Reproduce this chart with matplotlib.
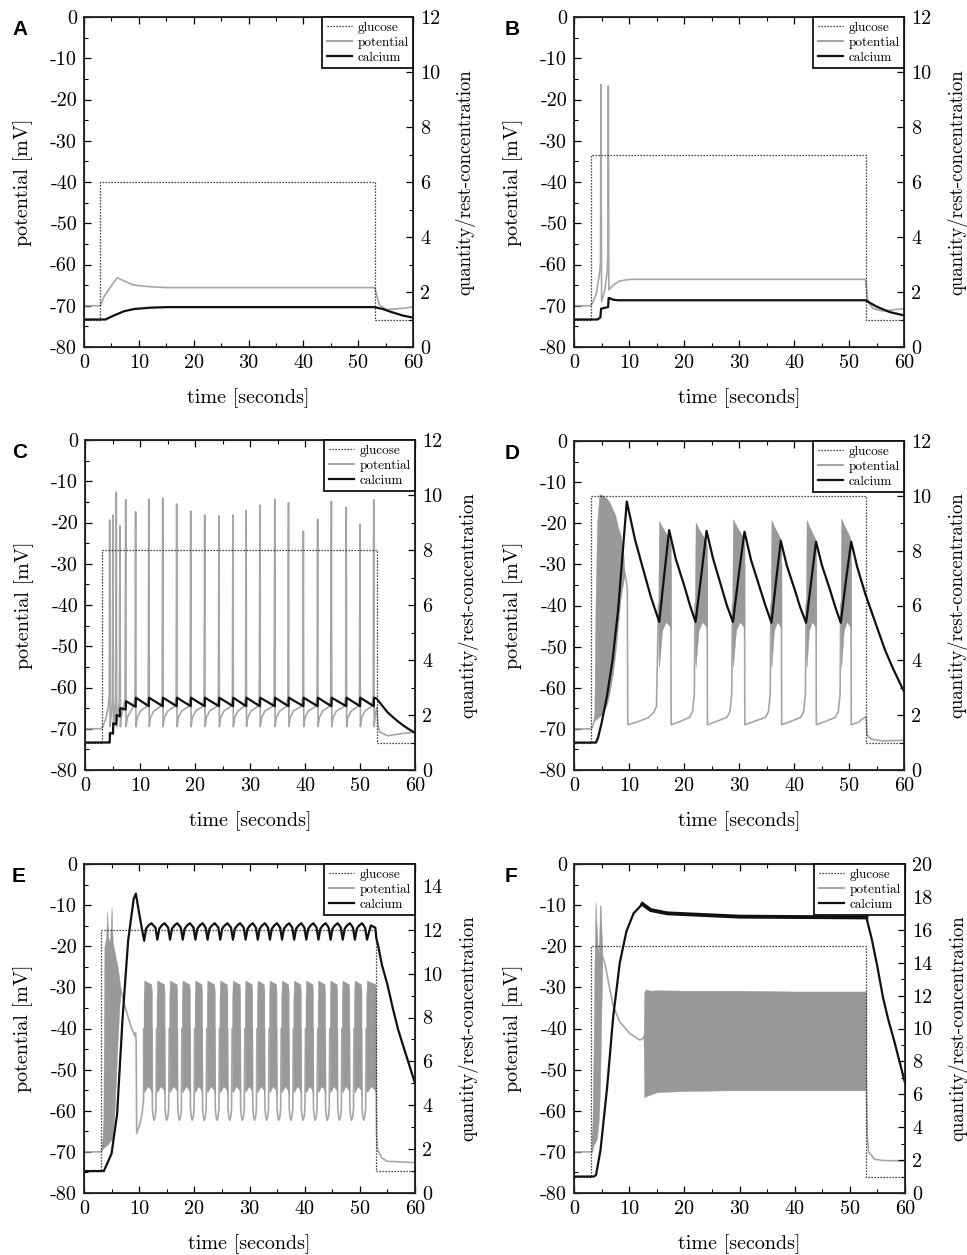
import numpy as np
import matplotlib
matplotlib.use('Agg')
import matplotlib.pyplot as plt
from matplotlib.lines import Line2D
from matplotlib.ticker import MultipleLocator

plt.rcParams['font.family'] = ['cmr10', 'DejaVu Serif']
plt.rcParams['axes.unicode_minus'] = False

GRAY = '#a6a6a6'
BURST = '#999999'
BLACK = '#111111'

# ---------------- shared ----------------
letters = ['A', 'B', 'C', 'D', 'E', 'F']
glucose_level = [6, 7, 8, 10, 12, 15]
right_top = [12, 12, 12, 12, 15, 20]
glu_t = [0, 3, 3, 53, 53, 60]

# ---------------- A ----------------
potA_t = [0, 3.0, 3.6, 4.85, 6.06, 7.3, 9.1, 12.1, 15.2, 53.0, 53.3, 53.9, 55.2, 57.6, 60]
potA_v = [-70, -70, -67.9, -65.4, -63.2, -64.0, -65.0, -65.4, -65.6, -65.6, -67, -69.9, -70.9, -70.7, -70.3]
caA_t = [0, 3.9, 5.5, 7.3, 9.1, 12.1, 15.2, 53.0, 54.5, 56.1, 58.2, 60]
caA_v = [1.0, 1.0, 1.15, 1.3, 1.38, 1.43, 1.45, 1.45, 1.38, 1.27, 1.14, 1.07]

# ---------------- B ----------------
potB_t = [0, 3.0, 3.45, 4.06, 4.55, 4.82, 4.9, 5.02, 5.6, 6.0, 6.15, 6.24, 6.34, 6.6, 7.1, 8.3, 10.1,
          53.0, 53.45, 54.4, 56.2, 58, 60]
potB_v = [-70, -70, -69.1, -67, -63, -59.8, -16.4, -69, -66.2, -62.2, -58, -16.8, -66.2, -65.8, -65, -64, -63.6,
          -63.6, -69.1, -70.7, -71.3, -71.0, -70.7]
caB_t = [0, 4.3, 4.8, 4.92, 5.05, 6.2, 6.3, 6.45, 7.1, 8.0, 53.0, 55.0, 57.4, 60]
caB_v = [1.0, 1.0, 1.08, 1.39, 1.4, 1.45, 1.78, 1.78, 1.72, 1.7, 1.7, 1.47, 1.27, 1.15]

# ---------------- C ----------------
spkC_t = [4.49, 5.09, 5.69, 6.36, 7.4, 9.2, 11.6, 14.13, 16.67, 19.22, 21.76, 24.36, 26.9,
          29.3, 31.8, 34.5, 37.0, 39.7, 42.3, 44.8, 47.5, 50.0, 52.5]
spkC_v = [-19.4, -18.2, -12.7, -20.8, -14.5, -17.4, -14.3, -14.1, -15.5, -17.2, -18.2, -18.4, -18.2,
          -17.1, -15.8, -14.3, -15.2, -22.1, -19.2, -14.9, -16.3, -20.4, -14.5]
potC_pre_t = [0, 3.0, 3.3, 3.8, 4.2, 4.42]
potC_pre_v = [-70, -70, -69.3, -67.5, -65, -62]
potC_post_t = [52.8, 53.05, 53.25, 53.6, 55.0, 57.5, 60]
potC_post_v = [-66.5, -64.8, -69, -70.8, -71.7, -71.2, -70.8]
caC_lo = [1.0, 1.32, 1.66, 1.95, 2.2, 2.3] + [2.32] * 17
caC_hi = [1.35, 1.7, 2.0, 2.25, 2.5] + [2.63] * 18
caC_post_t = [53.0, 54, 55, 56, 57, 58, 59, 60]
caC_post_v = [2.6, 2.35, 2.1, 1.92, 1.75, 1.6, 1.47, 1.35]

# ---------------- D ----------------
potD_pre_t = [0, 3.0, 3.4, 3.7]
potD_pre_v = [-70, -70, -69.5, -68]
burD1_t = [3.7, 3.9, 4.2, 4.6, 5.0, 5.5, 6.0, 6.5, 7.0, 7.5, 8.0, 8.5, 9.0, 9.2]
burD1_hi = [-66, -40, -20, -13, -13, -13.5, -14, -15, -16.5, -18, -21, -23, -28, -32]
burD1_lo = [-68, -67.8, -67.5, -67, -66.5, -65.5, -64, -61, -57, -52, -45, -38, -34, -32]
potD_mid_t = [9.2, 9.45, 9.7, 9.78, 11.5, 13.5, 14.5, 15.0]
potD_mid_v = [-32, -33.5, -36, -69, -68.3, -67.3, -66, -64.5]
burD_start = [15.35, 22.0, 28.8, 35.8, 42.2, 48.5]
burD_end = [17.6, 24.2, 31.0, 37.7, 44.0, 50.35]
burD_top = [-19.4, -19.8, -19.0, -19.2, -19.2, -18.8]
envD_frac = [0.0, 0.05, 0.3, 0.6, 0.9, 1.0]
envD_hi_drop = [15, 0, 1.5, 3.0, 4.5, 6]
envD_lo = [-52, -55, -46, -44, -45, -46]
silD_dt = [0.06, 1.5]
silD_v = [-69, -68.3]
preD_dt = [1.0, 0.45, 0.12]
preD_v = [-67.2, -65.8, -61.5]
potD_post_t = [52.0, 53.1, 53.3, 54.0, 56.0, 60]
potD_post_v = [-68, -67, -71.5, -72.5, -72.9, -72.8]
caD_t = [0, 4.0, 4.4, 5.0, 6.0, 7.0, 8.0, 8.8, 9.6,
         11.1, 12.6, 14.0, 15.5, 16.4, 17.3,
         18.5, 20.0, 21.1, 22.1, 23.2, 24.1,
         25.3, 26.7, 27.8, 28.9, 30.0, 31.0,
         32.2, 33.7, 34.8, 35.9, 36.8, 37.6,
         38.7, 40.1, 41.1, 42.2, 43.2, 44.0,
         45.1, 46.5, 47.5, 48.5, 49.5, 50.4,
         51.5, 53.0, 56.5, 58.0, 60]
caD_v = [1.0, 1.0, 1.2, 1.7, 2.7, 4.0, 5.8, 7.8, 9.79,
         8.4, 7.3, 6.3, 5.4, 7.1, 8.75,
         7.7, 6.75, 6.0, 5.4, 7.2, 8.72,
         7.7, 6.75, 6.0, 5.4, 7.2, 8.69,
         7.65, 6.7, 6.0, 5.37, 7.0, 8.36,
         7.45, 6.6, 5.95, 5.37, 7.0, 8.33,
         7.45, 6.6, 5.95, 5.37, 7.0, 8.33,
         7.4, 6.4, 4.4, 3.7, 2.86]

# ---------------- E ----------------
potE_pre_t = [0, 3.0, 3.3]
potE_pre_v = [-70, -70, -69.5]
burE1_t = [3.3, 3.5, 3.7, 4.0, 4.2, 4.4, 4.7, 5.0, 5.2, 5.5, 5.8, 6.1, 6.4, 6.65]
burE1_hi = [-69, -62, -20, -18, -11.5, -18, -19, -10.5, -19, -21, -23, -25, -28, -30.5]
burE1_lo = [-69.5, -69, -68.8, -68.6, -68.3, -68, -67.5, -67, -66, -61, -52, -43, -35, -30.5]
potE_mid_t = [6.65, 7.5, 8.5, 9.2, 9.35, 9.45, 9.55, 10.0, 10.5, 10.8]
potE_mid_v = [-30.5, -35, -39.5, -41.8, -41, -43, -65.5, -63.8, -61, -57]
troE = [12.7, 15.0, 17.3, 19.6, 21.8, 24.1, 26.4, 28.7, 30.9, 33.1, 35.3, 37.5, 39.7, 41.9,
        44.1, 46.3, 48.5, 50.7]
envE_frac = [0.0, 0.08, 0.5, 0.92, 1.0]
envE_hi = [-33, -28.3, -28.8, -29.2, -31]
envE_lo = [-55, -55.5, -54, -55, -56]
silE_dt = [0.1, 0.25]
silE_v = [-59.5, -61.5]
troE_v = -62.3
potE_post_t = [53.05, 53.2, 54.0, 55.0, 60]
potE_post_v = [-66, -69.5, -71.5, -72.3, -72.6]
caE_pre_t = [0, 3.6, 5.0, 6.0, 7.0, 8.0, 9.0, 9.4, 10.0, 10.9]
caE_pre_v = [1.0, 1.0, 1.8, 3.6, 8.0, 11.5, 13.4, 13.65, 12.75, 11.5]
caE_cyc_dt = [0.35, 0.8, 1.3]
caE_cyc_v = [12.05, 12.2, 12.3]
caE_end_v = 12.1
caE_dip_v = 11.55
caE_post_t = [52.0, 52.8, 53.0, 53.3, 54, 55, 56, 57, 58, 59, 60]
caE_post_v = [12.2, 12.1, 11.6, 11.3, 10.4, 9.5, 8.4, 7.4, 6.6, 5.8, 5.0]

# ---------------- F ----------------
potF_pre_t = [0, 3.0, 3.3]
potF_pre_v = [-70, -70, -70]
burF1_t = [3.3, 3.5, 3.7, 3.9, 4.1, 4.3, 4.5, 4.7, 4.85, 5.0, 5.15]
burF1_hi = [-69, -50, -25, -9.2, -15, -20, -22, -10, -10.3, -17, -22]
burF1_lo = [-70, -68.5, -68, -67.5, -67, -65, -62, -55, -45, -33, -23]
potF_mid_t = [5.15, 5.6, 6.0, 6.5, 7.1, 8.3, 10.1, 11.9, 12.5, 12.65]
potF_mid_v = [-22.5, -24, -27, -30.5, -34.5, -38.4, -41.2, -42.8, -42.5, -42]
bandF_t = [12.6, 12.75, 13.0, 14, 15, 20, 30, 40, 52.95, 53.0]
bandF_hi = [-42, -31, -30.5, -30.8, -30.7, -30.8, -30.8, -31, -31, -33]
bandF_lo = [-43, -56.8, -56.5, -56, -55.5, -55.2, -55, -55, -55, -53]
potF_post_t = [53.0, 53.15, 53.4, 54.5, 56, 60]
potF_post_v = [-53, -66, -70, -71.8, -72.1, -72.2]
caF_t = [0, 3.6, 4.0, 4.8, 6.0, 7.1, 8.3, 9.5, 10.8, 12.4, 13.9, 16.9, 30, 53, 54, 55, 56, 57, 58, 59, 60]
caF_v = [1.0, 1.0, 1.1, 2.6, 6.4, 10.7, 14.0, 15.9, 17.0, 17.57, 17.2, 17.0, 16.8, 16.75,
         15.4, 13.75, 11.9, 10.5, 9.3, 8.0, 6.7]


def build_C():
    t, v = list(potC_pre_t), list(potC_pre_v)
    ct, cv = [0, 4.45], [1.0, 1.0]
    for i, (ts, vs) in enumerate(zip(spkC_t, spkC_v)):
        t += [ts, ts + 0.07]
        v += [vs, -69.5]
        ct += [ts, ts + 0.05]
        cv += [caC_lo[i], caC_hi[i]]
        if i + 1 < len(spkC_t):
            tn = spkC_t[i + 1]
            if tn - ts > 1.2:
                t += [ts + 0.3, ts + 0.9, tn - 0.4, tn - 0.1]
                v += [-67.3, -65.7, -64.6, -62.5]
            else:
                t += [ts + 0.25, tn - 0.12]
                v += [-67.0, -63.0]
    t += potC_post_t
    v += potC_post_v
    ct += caC_post_t
    cv += caC_post_v
    return t, v, ct, cv


def build_D():
    t, v = list(potD_pre_t), list(potD_pre_v)
    t += potD_mid_t
    v += potD_mid_v
    fills = [(burD1_t, burD1_hi, burD1_lo)]
    for i, (s, e) in enumerate(zip(burD_start, burD_end)):
        ft = [s + f * (e - s) for f in envD_frac]
        fh = [burD_top[i] - d for d in envD_hi_drop]
        fills.append((ft, fh, envD_lo))
        # inside the burst the trace is hidden under the fill
        t += [s, e, e + silD_dt[0], e + silD_dt[1]]
        v += [-40, -30, silD_v[0], silD_v[1]]
        if i + 1 < len(burD_start):
            sn = burD_start[i + 1]
            t += [sn - d for d in preD_dt]
            v += preD_v
    t += potD_post_t
    v += potD_post_v
    return t, v, fills


def build_E():
    t, v = list(potE_pre_t), list(potE_pre_v)
    t += potE_mid_t
    v += potE_mid_v
    fills = [(burE1_t, burE1_hi, burE1_lo)]
    starts = [10.8] + [tr + 0.45 for tr in troE]
    ends = [tr - 0.4 for tr in troE] + [52.9]
    for i, (s, e) in enumerate(zip(starts, ends)):
        fills.append(([s + f * (e - s) for f in envE_frac], envE_hi, envE_lo))
        t += [s, e]
        v += [-40, -40]
        if i < len(troE):
            tr = troE[i]
            sn = starts[i + 1]
            t += [e + silE_dt[0], e + silE_dt[1], tr, sn - silE_dt[1], sn - silE_dt[0]]
            v += [silE_v[0], silE_v[1], troE_v, silE_v[1], silE_v[0]]
    t += potE_post_t
    v += potE_post_v
    # calcium
    ct, cv = list(caE_pre_t), list(caE_pre_v)
    dips = [tr + 0.6 for tr in troE]
    prev = 10.9
    for d in dips:
        ct += [prev + x for x in caE_cyc_dt] + [d - 0.35, d]
        cv += caE_cyc_v + [caE_end_v, caE_dip_v]
        prev = d
    ct += caE_post_t
    cv += caE_post_v
    return t, v, fills, ct, cv


potC_t, potC_v, caC_t, caC_v = build_C()
potD_t, potD_v, fillsD = build_D()
potE_t, potE_v, fillsE, caE_t, caE_v = build_E()
potF_t = potF_pre_t + potF_mid_t + potF_post_t
potF_v = potF_pre_v + potF_mid_v + potF_post_v
fillsF = [(burF1_t, burF1_hi, burF1_lo), (bandF_t, bandF_hi, bandF_lo)]

panels = [
    (potA_t, potA_v, [], caA_t, caA_v),
    (potB_t, potB_v, [], caB_t, caB_v),
    (potC_t, potC_v, [], caC_t, caC_v),
    (potD_t, potD_v, fillsD, caD_t, caD_v),
    (potE_t, potE_v, fillsE, caE_t, caE_v),
    (potF_t, potF_v, fillsF, caF_t, caF_v),
]

# axes boxes in pixels (left, top, right, bottom)
W, H = 967, 1255
boxes = [(84, 17, 413, 347), (574, 17, 904, 347),
         (85, 440, 415, 770), (574, 441, 904, 770),
         (84, 864, 415, 1193), (574, 864, 905, 1193)]

fig = plt.figure(figsize=(W / 100, H / 100), dpi=100)

for k in range(6):
    l, tp, r, b = boxes[k]
    ax = fig.add_axes([l / W, 1 - b / H, (r - l) / W, (b - tp) / H])
    pt, pv, fills, ct, cv = panels[k]
    for ft, fh, fl in fills:
        ax.fill_between(ft, fl, fh, color=BURST, lw=0.3, edgecolor=BURST, zorder=3)
    ax.plot(pt, pv, color=GRAY, lw=1.2, zorder=2)
    ax.set_xlim(0, 60)
    ax.set_ylim(-80, 0)

    ax2 = ax.twinx()
    g = glucose_level[k]
    ax2.plot(glu_t, [1, 1, g, g, 1, 1], color=BLACK, lw=0.9, ls=(0, (1, 1.4)))
    ax2.plot(ct, cv, color=BLACK, lw=1.6)
    if k == 5:
        # fast calcium ripple after the peak makes the trace look thicker
        sel = [(a, c) for a, c in zip(ct, cv) if 12.4 <= a <= 53]
        ax2.plot([a for a, _ in sel], [c for _, c in sel], color=BLACK, lw=2.8)
    ax2.set_ylim(0, right_top[k])

    ax.xaxis.set_major_locator(MultipleLocator(10))
    ax.xaxis.set_minor_locator(MultipleLocator(5))
    ax.yaxis.set_major_locator(MultipleLocator(10))
    ax.yaxis.set_minor_locator(MultipleLocator(5))
    ax2.yaxis.set_major_locator(MultipleLocator(2))
    ax2.yaxis.set_minor_locator(MultipleLocator(1))
    ax.tick_params(which='both', direction='in', top=True, right=False, labelsize=14.5, pad=5)
    ax.tick_params(which='major', length=5, width=0.9)
    ax.tick_params(which='minor', length=3, width=0.8)
    ax2.tick_params(which='both', direction='in', labelsize=14.5, pad=5)
    ax2.tick_params(which='major', length=5, width=0.9)
    ax2.tick_params(which='minor', length=3, width=0.8)
    for sp in ax2.spines.values():
        sp.set_linewidth(1.3)
        sp.set_color('#222222')

    ax.set_xlabel('time [seconds]', fontsize=14.5)
    ax.set_ylabel('potential [mV]', fontsize=14.5)
    ax2.set_ylabel('quantity/rest-concentration', fontsize=13.5)
    ax.xaxis.set_label_coords(0.5, -0.125)
    ax.yaxis.set_label_coords(-0.155, 0.5)
    ax2.yaxis.set_label_coords(1.13, 0.5)

    handles = [Line2D([], [], color=BLACK, lw=0.9, ls=(0, (1, 1.4))),
               Line2D([], [], color=GRAY, lw=1.5),
               Line2D([], [], color=BLACK, lw=1.6)]
    leg = ax2.legend(handles, ['glucose', 'potential', 'calcium'], loc='upper right',
                     borderaxespad=0, fancybox=False, framealpha=1, edgecolor=BLACK,
                     fontsize=9.5, handlelength=1.9, handletextpad=0.4,
                     labelspacing=0.2, borderpad=0.35)
    leg.get_frame().set_linewidth(1.3)

    fig.text((12 if k % 2 == 0 else 505) / W, 1 - (tp + 3) / H, letters[k],
             fontsize=15, fontweight='bold', family='Liberation Sans', ha='left', va='top')

fig.savefig('out.png', dpi=100)
